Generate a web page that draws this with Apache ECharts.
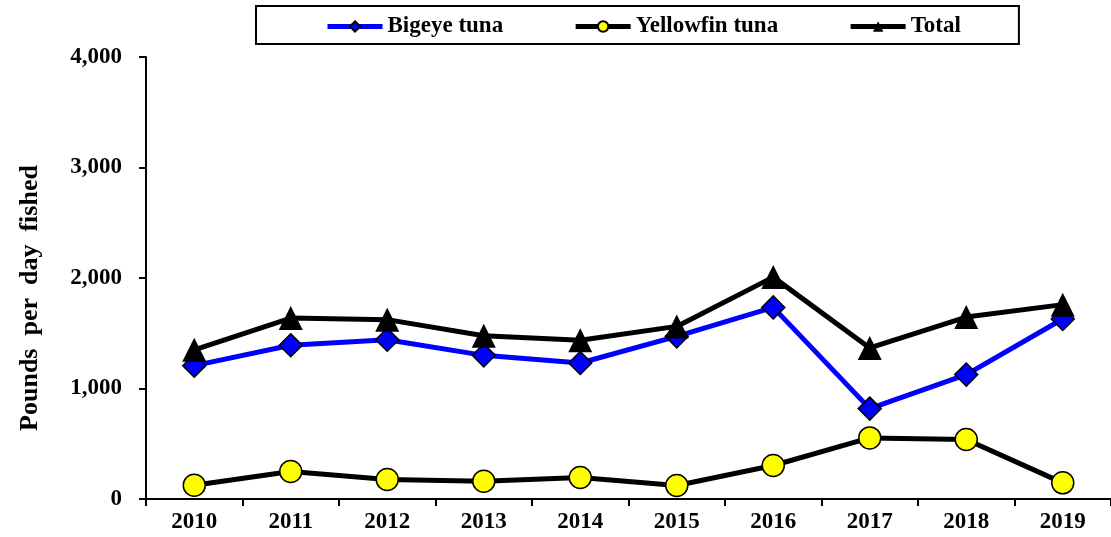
<!DOCTYPE html>
<html>
<head>
<meta charset="utf-8">
<script src="https://cdn.jsdelivr.net/npm/echarts@6/dist/echarts.min.js"></script>
<style>
  html, body { margin: 0; padding: 0; background: #fff; }
  #chart { width: 1111px; height: 537px; }
</style>
</head>
<body>
<div id="chart"></div>
<script>
// Catch per day fished, pounds, 2010-2019
const years = ['2010', '2011', '2012', '2013', '2014', '2015', '2016', '2017', '2018', '2019'];
const bigeye = [1207, 1391, 1442, 1300, 1231, 1472, 1734, 818, 1126, 1629];
const yellowfin = [125, 249, 176, 161, 194, 122, 303, 553, 538, 146];
const total = [1350, 1638, 1623, 1478, 1436, 1562, 2008, 1367, 1647, 1759];
const yTicks = [0, 1000, 2000, 3000, 4000];

const FONT = '"Liberation Serif", "Times New Roman", serif';

const chart = echarts.init(document.getElementById('chart'), null, { renderer: 'canvas' });

chart.setOption({
  animation: false,
  backgroundColor: '#ffffff',
  grid: { left: 146, top: 57, width: 971, height: 442 },
  legend: {
    left: 256,
    top: 6,
    padding: [9, 58, 6, 69],
    itemGap: 70,
    itemWidth: 55,
    itemHeight: 13,
    borderColor: '#000',
    borderWidth: 2,
    textStyle: { fontFamily: FONT, fontWeight: 'bold', fontSize: 23, color: '#000' },
    data: [
      { name: 'Bigeye tuna', lineStyle: { width: 5 } },
      { name: 'Yellowfin tuna', lineStyle: { width: 5 } },
      { name: 'Total', lineStyle: { width: 5 } }
    ]
  },
  xAxis: {
    type: 'category',
    data: years,
    boundaryGap: true,
    axisLine: { lineStyle: { color: '#000', width: 2 } },
    axisTick: { show: true, length: 7, lineStyle: { color: '#000', width: 2 } },
    axisLabel: { color: '#000', fontFamily: FONT, fontWeight: 'bold', fontSize: 23, margin: 12 },
    splitLine: { show: false }
  },
  yAxis: {
    type: 'value',
    min: yTicks[0],
    max: yTicks[yTicks.length - 1],
    interval: yTicks[1] - yTicks[0],
    axisLine: { show: true, lineStyle: { color: '#000', width: 2 } },
    axisTick: { show: true, length: 7, lineStyle: { color: '#000', width: 2 } },
    axisLabel: {
      color: '#000', fontFamily: FONT, fontWeight: 'bold', fontSize: 23, margin: 24,
      formatter: v => v.toLocaleString('en-US')
    },
    splitLine: { show: false }
  },
  graphic: [{
    type: 'text',
    x: 30,
    y: 298,
    rotation: Math.PI / 2,
    style: {
      text: 'Pounds  per  day  fished',
      fill: '#000',
      font: 'bold 26px ' + FONT,
      align: 'center',
      verticalAlign: 'middle'
    }
  }],
  series: [
    {
      name: 'Bigeye tuna',
      type: 'line',
      data: bigeye,
      symbol: 'diamond',
      symbolSize: 23,
      lineStyle: { color: '#0000ff', width: 5 },
      itemStyle: { color: '#0000ff', borderColor: '#000', borderWidth: 1.5 },
      z: 2
    },
    {
      name: 'Yellowfin tuna',
      type: 'line',
      data: yellowfin,
      symbol: 'circle',
      symbolSize: 22,
      lineStyle: { color: '#000', width: 5 },
      itemStyle: { color: '#ffff00', borderColor: '#000', borderWidth: 1.5 },
      z: 3
    },
    {
      name: 'Total',
      type: 'line',
      data: total,
      symbol: 'triangle',
      symbolSize: 24,
      lineStyle: { color: '#000', width: 5 },
      itemStyle: { color: '#000', borderColor: '#000', borderWidth: 0 },
      z: 4
    }
  ]
});
</script>
</body>
</html>
